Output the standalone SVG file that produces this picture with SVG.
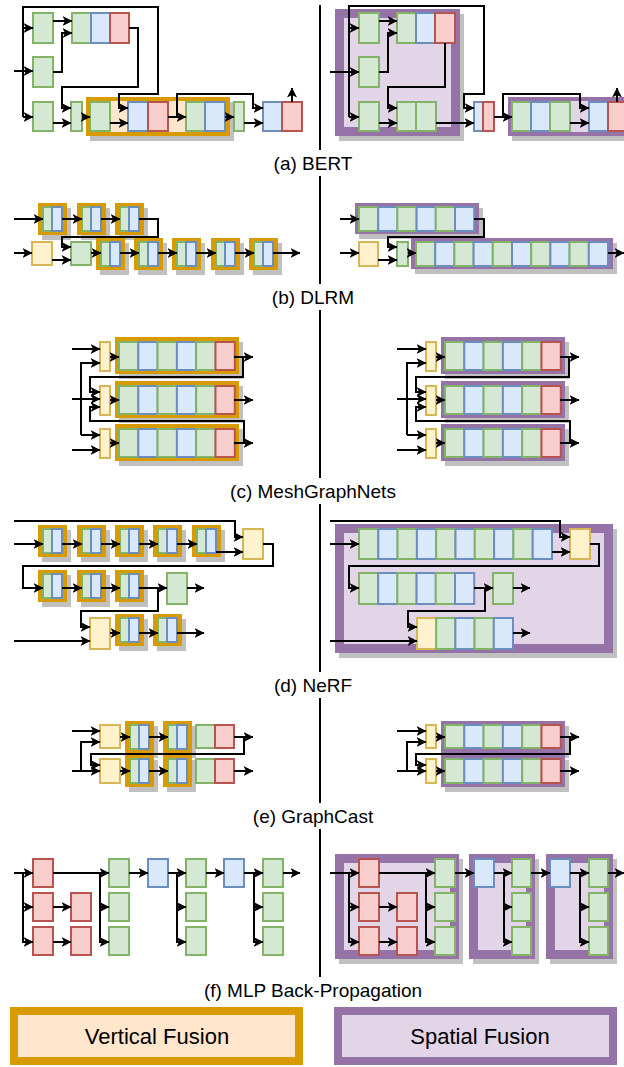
<svg xmlns="http://www.w3.org/2000/svg" width="624" height="1067" viewBox="0 0 624 1067">
<style>
.g{fill:#d5e8d4;stroke:#82b366;stroke-width:2}
.b{fill:#dae8fc;stroke:#6c8ebf;stroke-width:2}
.r{fill:#f8cecc;stroke:#b85450;stroke-width:2}
.y{fill:#fff2cc;stroke:#d6b656;stroke-width:2}
.vf{fill:#ffe6cc;stroke:#d79b00;stroke-width:4}
.sf{fill:#e1d5e7;stroke:#9673a6;stroke-width:4}
.sfw{fill:#e1d5e7;stroke:#9673a6;stroke-width:9}
.sh{fill:#c0c0c0}
.c{fill:none;stroke:#000;stroke-width:2;marker-end:url(#ah)}
.l{fill:none;stroke:#000;stroke-width:2}
.t{font-family:"Liberation Sans",Arial,sans-serif;font-size:19px;fill:#000;text-anchor:middle}
.lt{font-family:"Liberation Sans",Arial,sans-serif;font-size:22px;fill:#000;text-anchor:middle}
</style>
<defs>
<marker id="ah" viewBox="0 0 10 10" refX="9.5" refY="5" markerWidth="10" markerHeight="10" markerUnits="userSpaceOnUse" orient="auto"><path d="M0,0 L10,5 L0,10 L2.5,5 z" fill="#000"/></marker>
</defs>
<rect width="624" height="1067" fill="#fff"/>

<!-- divider -->
<path class="l" d="M320,5 V150 M320,176 V284 M320,310 V478 M320,504 V672 M320,698 V803 M320,829 V977"/>

<!-- ===== (a) BERT left ===== -->
<g id="a-vf">
<rect class="sh" x="90" y="102" width="144" height="39"/>
<rect class="vf" x="88" y="99" width="140" height="35"/>
<rect class="g" x="90" y="102" width="20" height="29"/>
<rect class="b" x="128" y="102" width="20" height="29"/>
<rect class="r" x="148" y="102" width="20" height="29"/>
<rect class="g" x="186" y="102" width="19" height="29"/>
<rect class="b" x="205" y="102" width="20" height="29"/>
</g>
<g id="a-l-n1"><rect class="g" x="33" y="13" width="20" height="30"/></g>
<g id="a-l-n2"><rect class="g" x="33" y="57" width="20" height="30"/></g>
<g id="a-l-n3"><rect class="g" x="33" y="102" width="20" height="29"/></g>
<g id="a-l-n4"><rect class="g" x="72" y="13" width="19" height="30"/><rect class="b" x="91" y="13" width="19" height="30"/><rect class="r" x="110" y="13" width="19" height="30"/></g>
<g id="a-l-n5"><rect class="g" x="71" y="102" width="11" height="29"/></g>
<g id="a-l-n6"><rect class="g" x="234" y="102" width="10" height="29"/></g>
<g id="a-l-n7"><rect class="b" x="263" y="102" width="19" height="29"/><rect class="r" x="282" y="102" width="20" height="29"/></g>

<!-- ===== (a) BERT right ===== -->
<g id="a-sf1">
<rect class="sh" x="339" y="14" width="125" height="127"/>
<rect class="sfw" x="339.5" y="13.5" width="116" height="118"/>
<rect class="g" x="359" y="13" width="20" height="30"/>
<rect class="g" x="359" y="57" width="20" height="30"/>
<rect class="g" x="359" y="102" width="20" height="29"/>
<rect class="g" x="397" y="13" width="19" height="30"/>
<rect class="b" x="416" y="13" width="19" height="30"/>
<rect class="r" x="435" y="13" width="20" height="30"/>
<rect class="g" x="397" y="102" width="19" height="29"/>
<rect class="g" x="416" y="102" width="20" height="29"/>
</g>
<g id="a-r-n1"><rect class="b" x="474" y="102" width="9" height="29"/><rect class="r" x="483" y="102" width="11" height="29"/></g>
<g id="a-sf2">
<rect class="sh" x="512" y="102" width="120" height="39"/>
<rect class="sf" x="510" y="99" width="120" height="35"/>
<rect class="g" x="512" y="102" width="19" height="29"/>
<rect class="b" x="531" y="102" width="19" height="29"/>
<rect class="g" x="550" y="102" width="20" height="29"/>
<rect class="b" x="589" y="102" width="19" height="29"/>
<rect class="r" x="608" y="102" width="19" height="29"/>
</g>

<!-- ===== (b) DLRM left ===== -->
<g id="b-l-v1"><rect class="sh" x="42" y="208" width="29" height="32"/><rect class="vf" x="40" y="205" width="25" height="28"/><rect class="g" x="43" y="207" width="9" height="24"/><rect class="b" x="52" y="207" width="10" height="24"/></g>
<g id="b-l-v2"><rect class="sh" x="81" y="208" width="29" height="32"/><rect class="vf" x="79" y="205" width="25" height="28"/><rect class="g" x="82" y="207" width="9" height="24"/><rect class="b" x="91" y="207" width="10" height="24"/></g>
<g id="b-l-v3"><rect class="sh" x="119" y="208" width="29" height="32"/><rect class="vf" x="117" y="205" width="25" height="28"/><rect class="g" x="120" y="207" width="9" height="24"/><rect class="b" x="129" y="207" width="10" height="24"/></g>
<g id="b-l-y"><rect class="y" x="32" y="242" width="20" height="23"/></g>
<g id="b-l-g"><rect class="g" x="71" y="242" width="20" height="23"/></g>
<g id="b-l-v4"><rect class="sh" x="100" y="243" width="29" height="32"/><rect class="vf" x="98" y="240" width="25" height="28"/><rect class="g" x="101" y="242" width="9" height="24"/><rect class="b" x="110" y="242" width="10" height="24"/></g>
<g id="b-l-v5"><rect class="sh" x="138" y="243" width="29" height="32"/><rect class="vf" x="136" y="240" width="25" height="28"/><rect class="g" x="139" y="242" width="9" height="24"/><rect class="b" x="148" y="242" width="10" height="24"/></g>
<g id="b-l-v6"><rect class="sh" x="176" y="243" width="29" height="32"/><rect class="vf" x="174" y="240" width="25" height="28"/><rect class="g" x="177" y="242" width="9" height="24"/><rect class="b" x="186" y="242" width="10" height="24"/></g>
<g id="b-l-v7"><rect class="sh" x="215" y="243" width="29" height="32"/><rect class="vf" x="213" y="240" width="25" height="28"/><rect class="g" x="216" y="242" width="9" height="24"/><rect class="b" x="225" y="242" width="10" height="24"/></g>
<g id="b-l-v8"><rect class="sh" x="253" y="243" width="29" height="32"/><rect class="vf" x="251" y="240" width="25" height="28"/><rect class="g" x="254" y="242" width="9" height="24"/><rect class="b" x="263" y="242" width="10" height="24"/></g>

<!-- ===== (b) DLRM right ===== -->
<g id="b-sf1">
<rect class="sh" x="359" y="208" width="124" height="31"/>
<rect class="sf" x="357" y="205" width="120" height="27"/>
<rect class="g" x="359" y="207" width="19.2" height="24"/>
<rect class="b" x="378.2" y="207" width="19.2" height="24"/>
<rect class="g" x="397.4" y="207" width="19.2" height="24"/>
<rect class="b" x="416.6" y="207" width="19.2" height="24"/>
<rect class="g" x="435.8" y="207" width="19.2" height="24"/>
<rect class="b" x="455" y="207" width="19.2" height="24"/>
</g>
<g id="b-r-y"><rect class="y" x="359" y="242" width="19" height="24"/></g>
<g id="b-r-g"><rect class="g" x="397" y="242" width="11" height="24"/></g>
<g id="b-sf2">
<rect class="sh" x="415" y="243" width="202" height="31"/>
<rect class="sf" x="413" y="240" width="198" height="27"/>
<rect class="g" x="416" y="242" width="19.2" height="24"/>
<rect class="b" x="435.2" y="242" width="19.2" height="24"/>
<rect class="g" x="454.4" y="242" width="19.2" height="24"/>
<rect class="b" x="473.6" y="242" width="19.2" height="24"/>
<rect class="g" x="492.8" y="242" width="19.2" height="24"/>
<rect class="b" x="512" y="242" width="19.2" height="24"/>
<rect class="g" x="531.2" y="242" width="19.2" height="24"/>
<rect class="b" x="550.4" y="242" width="19.2" height="24"/>
<rect class="g" x="569.6" y="242" width="19.2" height="24"/>
<rect class="b" x="588.8" y="242" width="19.2" height="24"/>
</g>

<!-- ===== (c) MeshGraphNets left ===== -->
<g id="c-l-y1"><rect class="y" x="100" y="342" width="10" height="29"/></g>
<g id="c-l-y2"><rect class="y" x="100" y="386" width="10" height="29"/></g>
<g id="c-l-y3"><rect class="y" x="100" y="429" width="10" height="29"/></g>
<g id="c-l-v1">
<rect class="sh" x="119" y="342" width="124" height="37"/>
<rect class="vf" x="117" y="339" width="120" height="33"/>
<rect class="g" x="119" y="342" width="19.3" height="28"/><rect class="b" x="138.3" y="342" width="19.3" height="28"/><rect class="g" x="157.6" y="342" width="19.3" height="28"/><rect class="b" x="176.9" y="342" width="19.3" height="28"/><rect class="g" x="196.2" y="342" width="19.3" height="28"/><rect class="r" x="215.5" y="342" width="19.3" height="28"/>
</g>
<g id="c-l-v2">
<rect class="sh" x="119" y="386" width="124" height="37"/>
<rect class="vf" x="117" y="383" width="120" height="33"/>
<rect class="g" x="119" y="386" width="19.3" height="28"/><rect class="b" x="138.3" y="386" width="19.3" height="28"/><rect class="g" x="157.6" y="386" width="19.3" height="28"/><rect class="b" x="176.9" y="386" width="19.3" height="28"/><rect class="g" x="196.2" y="386" width="19.3" height="28"/><rect class="r" x="215.5" y="386" width="19.3" height="28"/>
</g>
<g id="c-l-v3">
<rect class="sh" x="119" y="429" width="124" height="37"/>
<rect class="vf" x="117" y="426" width="120" height="33"/>
<rect class="g" x="119" y="429" width="19.3" height="28"/><rect class="b" x="138.3" y="429" width="19.3" height="28"/><rect class="g" x="157.6" y="429" width="19.3" height="28"/><rect class="b" x="176.9" y="429" width="19.3" height="28"/><rect class="g" x="196.2" y="429" width="19.3" height="28"/><rect class="r" x="215.5" y="429" width="19.3" height="28"/>
</g>

<!-- ===== (c) MeshGraphNets right ===== -->
<g id="c-r-y1"><rect class="y" x="426" y="342" width="10" height="29"/></g>
<g id="c-r-y2"><rect class="y" x="426" y="386" width="10" height="29"/></g>
<g id="c-r-y3"><rect class="y" x="426" y="429" width="10" height="29"/></g>
<g id="c-r-s1">
<rect class="sh" x="445" y="342" width="124" height="37"/>
<rect class="sf" x="443" y="339" width="120" height="33"/>
<rect class="g" x="445" y="342" width="19.3" height="28"/><rect class="b" x="464.3" y="342" width="19.3" height="28"/><rect class="g" x="483.6" y="342" width="19.3" height="28"/><rect class="b" x="502.9" y="342" width="19.3" height="28"/><rect class="g" x="522.2" y="342" width="19.3" height="28"/><rect class="r" x="541.5" y="342" width="19.3" height="28"/>
</g>
<g id="c-r-s2">
<rect class="sh" x="445" y="386" width="124" height="37"/>
<rect class="sf" x="443" y="383" width="120" height="33"/>
<rect class="g" x="445" y="386" width="19.3" height="28"/><rect class="b" x="464.3" y="386" width="19.3" height="28"/><rect class="g" x="483.6" y="386" width="19.3" height="28"/><rect class="b" x="502.9" y="386" width="19.3" height="28"/><rect class="g" x="522.2" y="386" width="19.3" height="28"/><rect class="r" x="541.5" y="386" width="19.3" height="28"/>
</g>
<g id="c-r-s3">
<rect class="sh" x="445" y="429" width="124" height="37"/>
<rect class="sf" x="443" y="426" width="120" height="33"/>
<rect class="g" x="445" y="429" width="19.3" height="28"/><rect class="b" x="464.3" y="429" width="19.3" height="28"/><rect class="g" x="483.6" y="429" width="19.3" height="28"/><rect class="b" x="502.9" y="429" width="19.3" height="28"/><rect class="g" x="522.2" y="429" width="19.3" height="28"/><rect class="r" x="541.5" y="429" width="19.3" height="28"/>
</g>

<!-- ===== (d) NeRF left ===== -->
<g id="d-l-v1"><rect class="sh" x="42" y="530" width="29" height="32"/><rect class="vf" x="40" y="527" width="25" height="28"/><rect class="g" x="43" y="529" width="9" height="24"/><rect class="b" x="52" y="529" width="10" height="24"/></g>
<g id="d-l-v2"><rect class="sh" x="81" y="530" width="29" height="32"/><rect class="vf" x="79" y="527" width="25" height="28"/><rect class="g" x="82" y="529" width="9" height="24"/><rect class="b" x="91" y="529" width="10" height="24"/></g>
<g id="d-l-v3"><rect class="sh" x="119" y="530" width="29" height="32"/><rect class="vf" x="117" y="527" width="25" height="28"/><rect class="g" x="120" y="529" width="9" height="24"/><rect class="b" x="129" y="529" width="10" height="24"/></g>
<g id="d-l-v4"><rect class="sh" x="157" y="530" width="29" height="32"/><rect class="vf" x="155" y="527" width="25" height="28"/><rect class="g" x="158" y="529" width="9" height="24"/><rect class="b" x="167" y="529" width="10" height="24"/></g>
<g id="d-l-v5"><rect class="sh" x="196" y="530" width="29" height="32"/><rect class="vf" x="194" y="527" width="25" height="28"/><rect class="g" x="197" y="529" width="9" height="24"/><rect class="b" x="206" y="529" width="10" height="24"/></g>
<g id="d-l-y1"><rect class="y" x="243" y="529" width="20" height="30"/></g>
<g id="d-l-v6"><rect class="sh" x="42" y="575" width="29" height="32"/><rect class="vf" x="40" y="572" width="25" height="28"/><rect class="g" x="43" y="574" width="9" height="24"/><rect class="b" x="52" y="574" width="10" height="24"/></g>
<g id="d-l-v7"><rect class="sh" x="81" y="575" width="29" height="32"/><rect class="vf" x="79" y="572" width="25" height="28"/><rect class="g" x="82" y="574" width="9" height="24"/><rect class="b" x="91" y="574" width="10" height="24"/></g>
<g id="d-l-v8"><rect class="sh" x="119" y="575" width="29" height="32"/><rect class="vf" x="117" y="572" width="25" height="28"/><rect class="g" x="120" y="574" width="9" height="24"/><rect class="b" x="129" y="574" width="10" height="24"/></g>
<g id="d-l-g1"><rect class="g" x="167" y="573" width="20" height="31"/></g>
<g id="d-l-y2"><rect class="y" x="90" y="618" width="20" height="31"/></g>
<g id="d-l-v9"><rect class="sh" x="119" y="619" width="29" height="32"/><rect class="vf" x="117" y="616" width="25" height="28"/><rect class="g" x="120" y="618" width="9" height="24"/><rect class="b" x="129" y="618" width="10" height="24"/></g>
<g id="d-l-v10"><rect class="sh" x="157" y="619" width="29" height="32"/><rect class="vf" x="155" y="616" width="25" height="28"/><rect class="g" x="158" y="618" width="9" height="24"/><rect class="b" x="167" y="618" width="10" height="24"/></g>

<!-- ===== (d) NeRF right ===== -->
<g id="d-sf">
<rect class="sh" x="339" y="529" width="278" height="129"/>
<rect class="sfw" x="339.5" y="528.5" width="269" height="120"/>
</g>
<g id="d-r-row1">
<rect class="g" x="359" y="529" width="19.3" height="30"/><rect class="b" x="378.3" y="529" width="19.3" height="30"/><rect class="g" x="397.6" y="529" width="19.3" height="30"/><rect class="b" x="416.9" y="529" width="19.3" height="30"/><rect class="g" x="436.2" y="529" width="19.3" height="30"/><rect class="b" x="455.5" y="529" width="19.3" height="30"/><rect class="g" x="474.8" y="529" width="19.3" height="30"/><rect class="b" x="494.1" y="529" width="19.3" height="30"/><rect class="g" x="513.4" y="529" width="19.3" height="30"/><rect class="b" x="532.7" y="529" width="19.3" height="30"/>
</g>
<g id="d-r-y1"><rect class="y" x="570" y="529" width="20" height="30"/></g>
<g id="d-r-row2">
<rect class="g" x="359" y="573" width="19.2" height="31"/><rect class="b" x="378.2" y="573" width="19.2" height="31"/><rect class="g" x="397.4" y="573" width="19.2" height="31"/><rect class="b" x="416.6" y="573" width="19.2" height="31"/><rect class="g" x="435.8" y="573" width="19.2" height="31"/><rect class="b" x="455" y="573" width="19.2" height="31"/>
</g>
<g id="d-r-g1"><rect class="g" x="493" y="573" width="20" height="31"/></g>
<g id="d-r-row3">
<rect class="y" x="417" y="618" width="19.2" height="31"/><rect class="g" x="436.2" y="618" width="19.2" height="31"/><rect class="b" x="455.4" y="618" width="19.2" height="31"/><rect class="g" x="474.6" y="618" width="19.2" height="31"/><rect class="b" x="493.8" y="618" width="19.2" height="31"/>
</g>

<!-- ===== (e) GraphCast left ===== -->
<g id="e-l-y1"><rect class="y" x="100" y="725" width="20" height="23"/></g>
<g id="e-l-y2"><rect class="y" x="100" y="759" width="20" height="24"/></g>
<g id="e-l-v1"><rect class="sh" x="129" y="726" width="29" height="32"/><rect class="vf" x="127" y="723" width="25" height="28"/><rect class="g" x="130" y="725" width="9" height="24"/><rect class="b" x="139" y="725" width="10" height="24"/></g>
<g id="e-l-v2"><rect class="sh" x="167" y="726" width="29" height="32"/><rect class="vf" x="165" y="723" width="25" height="28"/><rect class="g" x="168" y="725" width="9" height="24"/><rect class="b" x="177" y="725" width="10" height="24"/></g>
<g id="e-l-v3"><rect class="sh" x="129" y="760" width="29" height="32"/><rect class="vf" x="127" y="757" width="25" height="28"/><rect class="g" x="130" y="759" width="9" height="24"/><rect class="b" x="139" y="759" width="10" height="24"/></g>
<g id="e-l-v4"><rect class="sh" x="167" y="760" width="29" height="32"/><rect class="vf" x="165" y="757" width="25" height="28"/><rect class="g" x="168" y="759" width="9" height="24"/><rect class="b" x="177" y="759" width="10" height="24"/></g>
<g id="e-l-n1"><rect class="g" x="196" y="725" width="19" height="23"/><rect class="r" x="215" y="725" width="19" height="23"/></g>
<g id="e-l-n2"><rect class="g" x="196" y="759" width="19" height="24"/><rect class="r" x="215" y="759" width="19" height="24"/></g>

<!-- ===== (e) GraphCast right ===== -->
<g id="e-r-y1"><rect class="y" x="426" y="725" width="10" height="23"/></g>
<g id="e-r-y2"><rect class="y" x="426" y="759" width="10" height="24"/></g>
<g id="e-r-s1">
<rect class="sh" x="445" y="726" width="124" height="32"/>
<rect class="sf" x="443" y="723" width="120" height="28"/>
<rect class="g" x="445" y="725" width="19.3" height="23"/><rect class="b" x="464.3" y="725" width="19.3" height="23"/><rect class="g" x="483.6" y="725" width="19.3" height="23"/><rect class="b" x="502.9" y="725" width="19.3" height="23"/><rect class="g" x="522.2" y="725" width="19.3" height="23"/><rect class="r" x="541.5" y="725" width="19.3" height="23"/>
</g>
<g id="e-r-s2">
<rect class="sh" x="445" y="760" width="124" height="32"/>
<rect class="sf" x="443" y="757" width="120" height="28"/>
<rect class="g" x="445" y="759" width="19.3" height="24"/><rect class="b" x="464.3" y="759" width="19.3" height="24"/><rect class="g" x="483.6" y="759" width="19.3" height="24"/><rect class="b" x="502.9" y="759" width="19.3" height="24"/><rect class="g" x="522.2" y="759" width="19.3" height="24"/><rect class="r" x="541.5" y="759" width="19.3" height="24"/>
</g>

<!-- ===== (f) MLP left ===== -->
<g id="f-l-r1"><rect class="r" x="33" y="859" width="20" height="28"/><rect class="r" x="33" y="893" width="20" height="28"/><rect class="r" x="33" y="927" width="20" height="28"/></g>
<g id="f-l-r2"><rect class="r" x="71" y="893" width="20" height="28"/><rect class="r" x="71" y="927" width="20" height="28"/></g>
<g id="f-l-g1"><rect class="g" x="109" y="859" width="20" height="28"/><rect class="g" x="109" y="893" width="20" height="28"/><rect class="g" x="109" y="927" width="20" height="28"/></g>
<g id="f-l-b1"><rect class="b" x="148" y="859" width="20" height="28"/></g>
<g id="f-l-g2"><rect class="g" x="186" y="859" width="20" height="28"/><rect class="g" x="186" y="893" width="20" height="28"/><rect class="g" x="186" y="927" width="20" height="28"/></g>
<g id="f-l-b2"><rect class="b" x="224" y="859" width="20" height="28"/></g>
<g id="f-l-g3"><rect class="g" x="263" y="859" width="20" height="28"/><rect class="g" x="263" y="893" width="20" height="28"/><rect class="g" x="263" y="927" width="20" height="28"/></g>

<!-- ===== (f) MLP right ===== -->
<g id="f-sf1"><rect class="sh" x="339" y="859" width="124" height="105"/><rect class="sfw" x="339.5" y="858.5" width="115" height="96"/></g>
<g id="f-sf2"><rect class="sh" x="473" y="859" width="66" height="105"/><rect class="sfw" x="473.5" y="858.5" width="57" height="96"/></g>
<g id="f-sf3"><rect class="sh" x="550" y="859" width="67" height="105"/><rect class="sfw" x="550.5" y="858.5" width="58" height="96"/></g>
<g id="f-r-r1"><rect class="r" x="359" y="859" width="20" height="28"/><rect class="r" x="359" y="893" width="20" height="28"/><rect class="r" x="359" y="927" width="20" height="28"/></g>
<g id="f-r-r2"><rect class="r" x="397" y="893" width="20" height="28"/><rect class="r" x="397" y="927" width="20" height="28"/></g>
<g id="f-r-g1"><rect class="g" x="435" y="859" width="20" height="28"/><rect class="g" x="435" y="893" width="20" height="28"/><rect class="g" x="435" y="927" width="20" height="28"/></g>
<g id="f-r-b1"><rect class="b" x="474" y="859" width="20" height="28"/></g>
<g id="f-r-g2"><rect class="g" x="512" y="859" width="19" height="28"/><rect class="g" x="512" y="893" width="19" height="28"/><rect class="g" x="512" y="927" width="19" height="28"/></g>
<g id="f-r-b2"><rect class="b" x="550" y="859" width="20" height="28"/></g>
<g id="f-r-g3"><rect class="g" x="589" y="859" width="19" height="28"/><rect class="g" x="589" y="893" width="19" height="28"/><rect class="g" x="589" y="927" width="19" height="28"/></g>

<!-- ===== connectors ===== -->
<g id="connectors">
<!-- a left -->
<path class="c" d="M14,71 L33,71"/>
<path class="c" d="M23,117 L23,7 L158,7 L158,94 L119,94 L119,108 L128,108"/>
<path class="c" d="M23,28 L33,28"/>
<path class="c" d="M23,117 L33,117"/>
<path class="c" d="M53,21 L72,21"/>
<path class="c" d="M53,72 L62,72 L62,33 L72,33"/>
<path class="c" d="M129,28 L138,28 L138,87 L62,87 L62,108 L71,108"/>
<path class="c" d="M53,123 L71,123"/>
<path class="c" d="M82,117 L90,117"/>
<path class="c" d="M110,123 L128,123"/>
<path class="c" d="M168,117 L186,117"/>
<path class="c" d="M177,117 L177,94 L253,94 L253,108 L263,108"/>
<path class="c" d="M225,117 L234,117"/>
<path class="c" d="M244,123 L263,123"/>
<path class="c" d="M292,102 L292,88"/>
<!-- a right -->
<path class="c" d="M330,72 L359,72"/>
<path class="c" d="M349,117 L349,6 L484,6 L484,94 L464,94 L464,108 L474,108"/>
<path class="c" d="M349,28 L359,28"/>
<path class="c" d="M349,117 L359,117"/>
<path class="c" d="M379,21 L397,21"/>
<path class="c" d="M379,72 L388,72 L388,33 L397,33"/>
<path class="c" d="M445,43 L445,87 L388,87 L388,108 L397,108"/>
<path class="c" d="M379,123 L397,123"/>
<path class="c" d="M436,123 L474,123"/>
<path class="c" d="M494,117 L512,117"/>
<path class="c" d="M503,117 L503,94 L580,94 L580,108 L589,108"/>
<path class="c" d="M570,123 L589,123"/>
<path class="c" d="M617,102 L617,88"/>
<!-- b left -->
<path class="c" d="M14,219 L43,219"/>
<path class="c" d="M62,219 L82,219"/>
<path class="c" d="M101,219 L120,219"/>
<path class="c" d="M139,219 L158,219 L158,237 L62,237 L62,247 L71,247"/>
<path class="c" d="M14,253 L32,253"/>
<path class="c" d="M52,260 L71,260"/>
<path class="c" d="M91,253 L101,253"/>
<path class="c" d="M120,253 L139,253"/>
<path class="c" d="M158,253 L177,253"/>
<path class="c" d="M196,253 L216,253"/>
<path class="c" d="M235,253 L254,253"/>
<path class="c" d="M273,253 L300,253"/>
<!-- b right -->
<path class="c" d="M340,219 L359,219"/>
<path class="c" d="M474,219 L484,219 L484,237 L388,237 L388,247 L397,247"/>
<path class="c" d="M340,253 L359,253"/>
<path class="c" d="M378,260 L397,260"/>
<path class="c" d="M408,253 L416,253"/>
<path class="c" d="M608,253 L624,253"/>
<!-- c left -->
<path class="c" d="M72,349 L100,349"/>
<path class="c" d="M81,435 L81,363 L100,363"/>
<path class="c" d="M81,435 L100,435"/>
<path class="c" d="M72,399 L100,399"/>
<path class="c" d="M72,450 L100,450"/>
<path class="c" d="M110,357 L119,357"/>
<path class="c" d="M110,400 L119,400"/>
<path class="c" d="M110,443 L119,443"/>
<path class="c" d="M234,357 L253,357"/>
<path class="c" d="M243,357 L243,377 L90,377 L90,392 L100,392"/>
<path class="c" d="M234,400 L253,400"/>
<path class="c" d="M234,443 L253,443"/>
<path class="c" d="M244,443 L244,421 L90,421 L90,407 L100,407"/>
<!-- c right -->
<path class="c" d="M397,349 L426,349"/>
<path class="c" d="M407,435 L407,363 L426,363"/>
<path class="c" d="M407,435 L426,435"/>
<path class="c" d="M397,399 L426,399"/>
<path class="c" d="M397,450 L426,450"/>
<path class="c" d="M436,357 L445,357"/>
<path class="c" d="M436,400 L445,400"/>
<path class="c" d="M436,443 L445,443"/>
<path class="c" d="M560,357 L579,357"/>
<path class="c" d="M569,357 L569,377 L416,377 L416,392 L426,392"/>
<path class="c" d="M560,400 L579,400"/>
<path class="c" d="M560,443 L579,443"/>
<path class="c" d="M570,443 L570,421 L416,421 L416,407 L426,407"/>
<!-- d left -->
<path class="c" d="M14,521 L235,521 L235,537 L243,537"/>
<path class="c" d="M14,544 L43,544"/>
<path class="c" d="M62,544 L82,544"/>
<path class="c" d="M101,544 L120,544"/>
<path class="c" d="M139,544 L158,544"/>
<path class="c" d="M177,544 L197,544"/>
<path class="c" d="M216,552 L243,552"/>
<path class="c" d="M263,544 L273,544 L273,566 L23,566 L23,588 L43,588"/>
<path class="c" d="M62,588 L82,588"/>
<path class="c" d="M101,588 L120,588"/>
<path class="c" d="M139,588 L167,588"/>
<path class="c" d="M187,588 L204,588"/>
<path class="c" d="M158,588 L158,611 L81,611 L81,627 L90,627"/>
<path class="c" d="M14,641 L90,641"/>
<path class="c" d="M110,633 L120,633"/>
<path class="c" d="M139,633 L158,633"/>
<path class="c" d="M177,633 L204,633"/>
<!-- d right -->
<path class="c" d="M330,521 L560,521 L560,537 L570,537"/>
<path class="c" d="M330,544 L359,544"/>
<path class="c" d="M552,552 L570,552"/>
<path class="c" d="M590,544 L599,544 L599,566 L349,566 L349,588 L359,588"/>
<path class="c" d="M474,588 L493,588"/>
<path class="c" d="M513,588 L530,588"/>
<path class="c" d="M485,588 L485,611 L408,611 L408,627 L417,627"/>
<path class="c" d="M330,641 L417,641"/>
<path class="c" d="M513,633 L530,633"/>
<!-- e left -->
<path class="c" d="M72,731 L100,731"/>
<path class="c" d="M81,771 L81,742 L100,742"/>
<path class="c" d="M72,771 L100,771"/>
<path class="c" d="M120,737 L130,737"/>
<path class="c" d="M149,737 L168,737"/>
<path class="c" d="M234,737 L253,737"/>
<path class="c" d="M244,737 L244,754 L91,754 L91,765 L100,765"/>
<path class="c" d="M120,771 L130,771"/>
<path class="c" d="M149,771 L168,771"/>
<path class="c" d="M234,771 L253,771"/>
<!-- e right -->
<path class="c" d="M397,731 L426,731"/>
<path class="c" d="M407,771 L407,742 L426,742"/>
<path class="c" d="M397,771 L426,771"/>
<path class="c" d="M436,737 L445,737"/>
<path class="c" d="M436,771 L445,771"/>
<path class="c" d="M560,737 L579,737"/>
<path class="c" d="M570,737 L570,754 L416,754 L416,765 L426,765"/>
<path class="c" d="M560,771 L579,771"/>
<!-- f left -->
<path class="c" d="M14,873 L33,873"/>
<path class="c" d="M23,873 L23,942 L33,942"/>
<path class="c" d="M23,907 L33,907"/>
<path class="c" d="M53,873 L109,873"/>
<path class="c" d="M100,873 L100,942 L109,942"/>
<path class="c" d="M100,907 L109,907"/>
<path class="c" d="M53,907 L71,907"/>
<path class="c" d="M53,942 L71,942"/>
<path class="c" d="M129,873 L148,873"/>
<path class="c" d="M168,873 L186,873"/>
<path class="c" d="M177,873 L177,942 L186,942"/>
<path class="c" d="M177,907 L186,907"/>
<path class="c" d="M206,873 L224,873"/>
<path class="c" d="M244,873 L263,873"/>
<path class="c" d="M254,873 L254,942 L263,942"/>
<path class="c" d="M254,907 L263,907"/>
<path class="c" d="M283,873 L300,873"/>
<!-- f right -->
<path class="c" d="M330,873 L359,873"/>
<path class="c" d="M349,873 L349,942 L359,942"/>
<path class="c" d="M349,907 L359,907"/>
<path class="c" d="M379,873 L435,873"/>
<path class="c" d="M426,873 L426,942 L435,942"/>
<path class="c" d="M426,907 L435,907"/>
<path class="c" d="M379,907 L397,907"/>
<path class="c" d="M379,942 L397,942"/>
<path class="c" d="M455,873 L474,873"/>
<path class="c" d="M494,873 L512,873"/>
<path class="c" d="M504,873 L504,942 L512,942"/>
<path class="c" d="M504,907 L512,907"/>
<path class="c" d="M531,873 L550,873"/>
<path class="c" d="M570,873 L589,873"/>
<path class="c" d="M580,873 L580,942 L589,942"/>
<path class="c" d="M580,907 L589,907"/>
<path class="c" d="M608,873 L624,873"/>
</g>

<!-- labels -->
<text class="t" x="313" y="170">(a) BERT</text>
<text class="t" x="313" y="304">(b) DLRM</text>
<text class="t" x="313" y="498">(c) MeshGraphNets</text>
<text class="t" x="313" y="692">(d) NeRF</text>
<text class="t" x="313" y="823">(e) GraphCast</text>
<text class="t" x="313" y="997">(f) MLP Back-Propagation</text>

<!-- legend -->
<g id="legend-vertical">
<rect x="14" y="1011" width="285" height="50" fill="#ffe6cc" stroke="#d79b00" stroke-width="8"/>
<text class="lt" x="157" y="1044">Vertical Fusion</text>
</g>
<g id="legend-spatial">
<rect x="338" y="1011" width="275" height="50" fill="#e1d5e7" stroke="#9673a6" stroke-width="8"/>
<text class="lt" x="480" y="1044">Spatial Fusion</text>
</g>
</svg>
